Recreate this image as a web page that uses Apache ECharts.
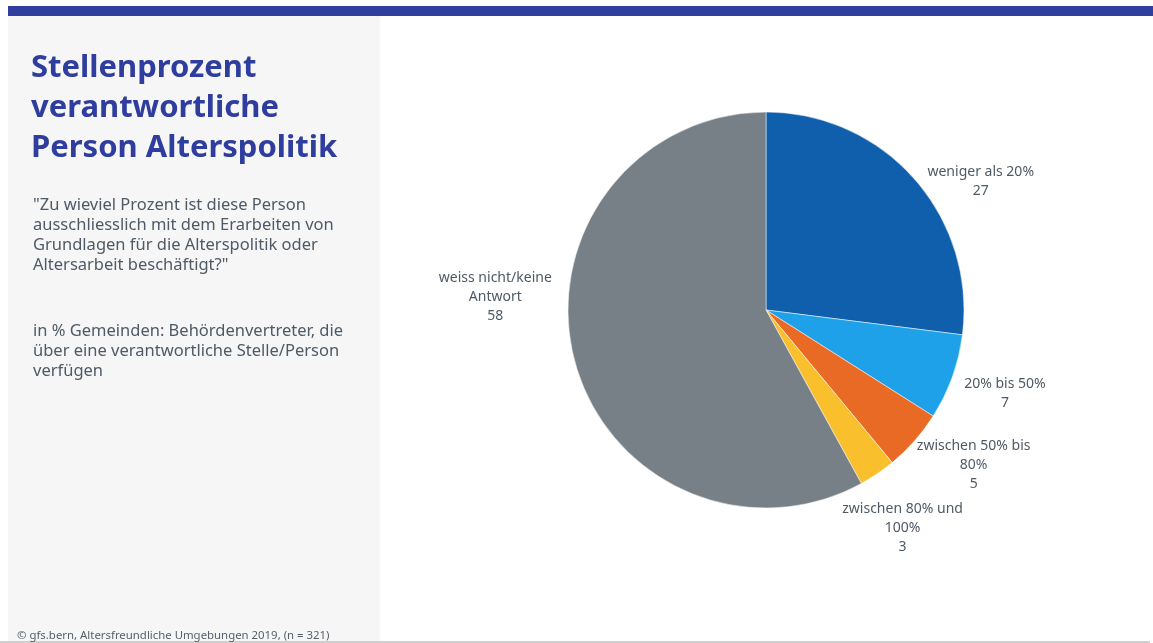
<!DOCTYPE html>
<html>
<head>
<meta charset="utf-8">
<script src="https://cdn.jsdelivr.net/npm/echarts@6/dist/echarts.min.js"></script>
<style>
  html, body { margin: 0; padding: 0; background: #ffffff; }
  #chart { width: 1153px; height: 643px; }
</style>
</head>
<body>
<div id="chart"></div>
<script>
// Survey answers: share of working time of the person responsible for age policy
const categories = [
  'weniger als 20%',
  '20% bis 50%',
  'zwischen 50% bis\n80%',
  'zwischen 80% und\n100%',
  'weiss nicht/keine\nAntwort'
];
const values = [27, 7, 5, 3, 58];
const sliceColors = ['#0f5fad', '#1fa1ea', '#e96a24', '#f9bf2c', '#778086'];

const titleText = 'Stellenprozent\nverantwortliche\nPerson Alterspolitik';
const questionText = '"Zu wieviel Prozent ist diese Person\nausschliesslich mit dem Erarbeiten von\nGrundlagen für die Alterspolitik oder\nAltersarbeit beschäftigt?"';
const baseText = 'in % Gemeinden: Behördenvertreter, die\nüber eine verantwortliche Stelle/Person\nverfügen';
const sourceText = '© gfs.bern, Altersfreundliche Umgebungen 2019, (n = 321)';

// Pie geometry and label placement (distance from centre, angular nudge in degrees)
const PIE_CENTER = [766, 310];
const PIE_RADIUS = 198;
const labelRadius = [250, 253, 259, 257, 271];
const labelAngleShift = [10.6, -0.6, -4.7, 2.1, 17.1];

const FONT = '"Noto Sans", sans-serif';
const TEXT_GREY = '#4e5a66';

const total = values.reduce((a, b) => a + b, 0);
const midAngles = [];
let acc = 0;
values.forEach(v => { midAngles.push((acc + v / 2) / total * 360); acc += v; });

const chart = echarts.init(document.getElementById('chart'), null, { renderer: 'canvas' });

chart.setOption({
  animation: false,
  backgroundColor: '#ffffff',
  graphic: [
    { type: 'rect', z: -10, shape: { x: 8, y: 16, width: 372, height: 625 }, style: { fill: '#f6f6f6' } },
    { type: 'rect', z: -10, shape: { x: 8, y: 6, width: 1145, height: 10 }, style: { fill: '#303f9f' } },
    { type: 'rect', z: -10, shape: { x: 0, y: 641, width: 1150, height: 2 }, style: { fill: '#d0d0d0' } },
    {
      type: 'text', left: 31, top: 48,
      style: { text: titleText, fill: '#2f3e9e', font: 'bold 31px ' + FONT, lineHeight: 40 }
    },
    {
      type: 'text', left: 33, top: 195,
      style: { text: questionText, fill: TEXT_GREY, font: '16.5px ' + FONT, lineHeight: 20 }
    },
    {
      type: 'text', left: 33, top: 321,
      style: { text: baseText, fill: TEXT_GREY, font: '16.5px ' + FONT, lineHeight: 20 }
    },
    {
      type: 'text', left: 17, top: 629,
      style: { text: sourceText, fill: '#555f69', font: '11.4px ' + FONT, lineHeight: 14 }
    }
  ],
  series: [{
    type: 'pie',
    center: PIE_CENTER,
    radius: PIE_RADIUS,
    startAngle: 90,
    clockwise: true,
    silent: true,
    itemStyle: { borderColor: '#ffffff', borderWidth: 0.5 },
    label: {
      show: true,
      position: 'outside',
      formatter: p => p.name + '\n' + p.value,
      color: TEXT_GREY,
      fontFamily: FONT,
      fontSize: 14,
      lineHeight: 19
    },
    labelLine: { show: false },
    labelLayout: p => {
      const i = p.dataIndex;
      const a = (midAngles[i] + labelAngleShift[i]) * Math.PI / 180;
      const r = labelRadius[i];
      return {
        x: PIE_CENTER[0] + r * Math.sin(a),
        y: PIE_CENTER[1] - r * Math.cos(a),
        align: 'center',
        verticalAlign: 'middle',
        hideOverlap: false
      };
    },
    data: categories.map((c, i) => ({
      name: c,
      value: values[i],
      itemStyle: { color: sliceColors[i] }
    }))
  }]
});
</script>
</body>
</html>
